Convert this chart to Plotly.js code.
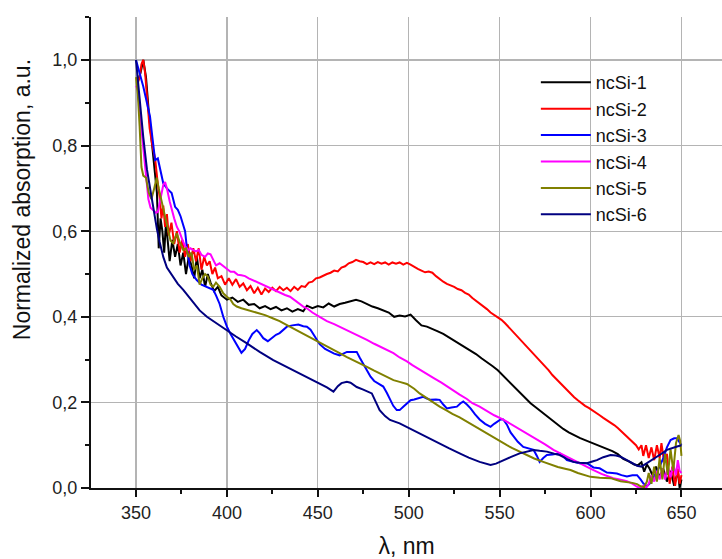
<!DOCTYPE html>
<html>
<head>
<meta charset="utf-8">
<script src="https://cdn.plot.ly/plotly-3.0.1.min.js"></script>
<style>html,body{margin:0;padding:0;background:#fff;}#chart{width:722px;height:559px;}</style>
</head>
<body>
<div id="chart"></div>
<script>
// ---- data ----
const seriesNames = ["ncSi-1", "ncSi-2", "ncSi-3", "ncSi-4", "ncSi-5", "ncSi-6"];
const seriesColors = ["#000000", "#ff0000", "#0000ff", "#ff00ff", "#808000", "#000080"];

const x1 = [351,352.5,354,355.5,357,358.5,360,361.5,362.5,363.5,364.5,365.5,366.5,367.5,368.5,370,371.5,373,374.5,376,377.5,379,380.5,382,383.5,385,386.5,388,389.5,391,393,395,397,400,403,406,409,412,415,418,421,424,427,430,433,436,439,442,444,447,450,453,456,459,462,465,468,471,474,477,480,483,486,489,492,495,498,501,504,507,510,513,516,519,522,525,528,531,534,537,540,543,546,549,552,555,558,561,564,567,570,573,576,579,582,585,588,591,594,597,600,603,606,609,612,615,618,621,624,626,628,629.5,631,632.5,634,636,638,640,642,644,646,648,649,650];
const y1 = [0.95,0.97,1.0,0.96,0.88,0.82,0.76,0.69,0.56,0.63,0.60,0.55,0.62,0.57,0.53,0.58,0.54,0.57,0.52,0.55,0.50,0.54,0.52,0.49,0.54,0.49,0.51,0.47,0.50,0.48,0.46,0.47,0.45,0.44,0.445,0.435,0.44,0.428,0.43,0.42,0.425,0.418,0.423,0.415,0.42,0.412,0.418,0.413,0.426,0.42,0.425,0.422,0.431,0.424,0.43,0.433,0.437,0.44,0.436,0.43,0.424,0.42,0.415,0.41,0.40,0.403,0.401,0.405,0.392,0.38,0.377,0.372,0.366,0.36,0.352,0.345,0.338,0.33,0.32,0.313,0.303,0.295,0.285,0.275,0.262,0.25,0.237,0.222,0.21,0.198,0.188,0.178,0.167,0.157,0.147,0.138,0.13,0.123,0.117,0.112,0.107,0.102,0.097,0.092,0.086,0.079,0.068,0.062,0.055,0.053,0.06,0.038,0.055,0.045,0.03,0.05,0.025,0.045,0.015,0.04,0.005,0.04,0.0,0.02];

const x2 = [350.5,352,353,354,355,356,357.5,359,360.5,362,363,364,365,366,367,368,369.5,371,372.5,374,375.5,377,378.5,380,381.5,383,384.5,386,387.5,389,390.5,392,393.5,395,397,399,401,403,405,407,409,411,413,415,417,419,421,423,425,427,429,431,433,435,437,439,441,443,445,447,449,451,453,455,457,459,461,463,465,467,469,471,473,475,477,479,481,483,485,487,489,491,493,495,497,499,501,503,505,507,509,511,513,515,517,519,521,523,525,527,529,531,533,535,537,539,541,543,545,547,549,551,553,555,557,559,561,563,565,567,569,571,573,575,577,579,581,583,585,587,589,591,593,595,597,599,601,603,605,607,609,611,613,615,617,619,621,623,625,626.5,628,629,630.5,632,633.5,635,636.5,638,639,640.5,642,643.5,645,646.5,648,649,650];
const y2 = [0.94,0.96,0.99,1.0,0.97,0.92,0.84,0.80,0.77,0.71,0.68,0.63,0.66,0.61,0.64,0.59,0.62,0.57,0.60,0.55,0.58,0.54,0.57,0.53,0.56,0.53,0.56,0.51,0.54,0.52,0.53,0.50,0.515,0.49,0.495,0.475,0.49,0.475,0.488,0.47,0.478,0.462,0.472,0.455,0.468,0.452,0.466,0.458,0.468,0.46,0.47,0.462,0.468,0.46,0.47,0.463,0.472,0.47,0.48,0.482,0.49,0.492,0.497,0.5,0.503,0.508,0.506,0.515,0.518,0.525,0.528,0.533,0.53,0.528,0.523,0.527,0.523,0.528,0.524,0.527,0.522,0.527,0.524,0.527,0.522,0.526,0.522,0.516,0.512,0.508,0.504,0.506,0.503,0.495,0.488,0.482,0.477,0.474,0.47,0.465,0.462,0.456,0.452,0.444,0.438,0.43,0.424,0.418,0.41,0.405,0.4,0.393,0.385,0.376,0.366,0.358,0.348,0.339,0.33,0.32,0.311,0.302,0.294,0.285,0.275,0.264,0.255,0.247,0.238,0.23,0.22,0.212,0.205,0.198,0.192,0.187,0.182,0.176,0.17,0.164,0.159,0.153,0.147,0.14,0.132,0.125,0.117,0.107,0.1,0.09,0.1,0.075,0.1,0.07,0.095,0.065,0.1,0.07,0.105,0.06,0.08,0.01,0.05,0.005,0.045,0.01,0.03];

const x3 = [350,352,354,356,357.7,359,360.5,362,363.5,365,367,369.6,371.5,373,374.5,376,377,378,379.5,381,383.4,386,389,392.5,394,396,398,400,402,404,406,408,410,412,414,416.4,418,420,422.5,425,427,429,431,433,436,439.3,442,444,446,448,451,454,456.8,459,462,464,466,469,471.4,473,475,477,479,481,483,486,488,489.7,491.5,493.4,495,497,499,501,503,506,508,510,512,515,517,519,521,523.5,526.5,528.5,530,532,534,536.5,539,542,545,547,548.5,550.5,552,554,556,558,560,563,566,568.7,570.5,572,574,576,579,583,585,587,590,594,598,601.6,605,607,609,612,614.5,617,620,623,625.6,627.5,629,631,632.5,634,636,638,640,642,644,646,647.6,649,650];
const y3 = [1.0,0.97,0.938,0.9,0.868,0.82,0.766,0.77,0.74,0.712,0.70,0.689,0.657,0.65,0.635,0.612,0.60,0.56,0.52,0.50,0.486,0.475,0.47,0.463,0.45,0.43,0.40,0.377,0.36,0.345,0.33,0.316,0.325,0.345,0.36,0.369,0.362,0.35,0.343,0.352,0.358,0.362,0.37,0.377,0.38,0.382,0.378,0.377,0.37,0.355,0.336,0.325,0.318,0.314,0.31,0.314,0.318,0.318,0.318,0.305,0.291,0.275,0.26,0.25,0.245,0.237,0.222,0.206,0.192,0.182,0.182,0.19,0.198,0.205,0.207,0.21,0.213,0.209,0.206,0.207,0.206,0.195,0.186,0.188,0.19,0.198,0.202,0.195,0.186,0.172,0.16,0.15,0.143,0.15,0.155,0.16,0.16,0.148,0.13,0.118,0.108,0.096,0.092,0.089,0.075,0.061,0.07,0.077,0.078,0.081,0.074,0.065,0.062,0.058,0.058,0.048,0.046,0.04,0.036,0.035,0.034,0.03,0.027,0.03,0.03,0.02,0.011,0.004,0.01,0.02,0.035,0.05,0.07,0.095,0.112,0.116,0.116,0.105,0.1];

const x4 = [350,351,352.5,354,355.5,356.8,358,359.5,361,362,363.5,365,366,367,368.5,369.6,371,372.5,374,375.5,377,378.8,380,381.5,383,384.5,386,388,389.5,391,392.5,394,396,398,400,402,404,406,408,410,412,414,416,418,420,422,424,426,428,430,432,434.7,437,440,442,444,447,451,455,459,462,466,470,474,477,481,485,488,491.6,495,499,502,506,510,514,518,521,525,528,532,535,539,543,547,552,556,560,565,570,575,579.6,585,590.6,595,601.6,606,612.5,616,620,623,625.5,627.5,629,630.5,632,633.5,635,636.5,638,639.5,641,642.5,644,645.5,647,648,649,650];
const y4 = [0.94,0.93,0.86,0.79,0.72,0.675,0.655,0.65,0.643,0.645,0.68,0.708,0.715,0.70,0.67,0.65,0.63,0.61,0.598,0.58,0.565,0.556,0.56,0.556,0.553,0.556,0.545,0.54,0.548,0.546,0.532,0.52,0.525,0.518,0.512,0.505,0.505,0.498,0.497,0.495,0.49,0.486,0.482,0.478,0.474,0.47,0.466,0.462,0.458,0.455,0.451,0.447,0.44,0.43,0.424,0.42,0.41,0.40,0.39,0.383,0.377,0.368,0.36,0.352,0.346,0.337,0.329,0.322,0.315,0.305,0.296,0.287,0.276,0.266,0.256,0.246,0.237,0.226,0.218,0.208,0.198,0.19,0.18,0.17,0.16,0.15,0.14,0.128,0.115,0.102,0.089,0.077,0.065,0.055,0.042,0.033,0.023,0.02,0.016,0.01,0.003,0.0,0.005,0.0,0.01,0.03,0.015,0.04,0.02,0.045,0.02,0.05,0.025,0.055,0.03,0.065,0.04,0.035];

const x5 = [350,351,352,353,354,355.5,357,358.5,360,361.4,362.5,364,366,367.5,369,370.5,372.4,374,376,377.5,379,380.5,382,383.5,385,386.5,388,389.5,391,392.5,394,396,398,400,402,403.5,405.4,408,411,414,418,421,425.5,429,432,434.7,438,441,444,447,451,455,458,462,466,470,474,477,481,485,488,491.6,495,499,503,506,510,514,517,521,524,528,532,535,539,543,546,550,554,557,561,565,569,574,578,582,586,589,593,597,600,605,611,616.5,620,623,625.6,627.5,629.4,631,632,633.5,635,636.5,638,639.5,641,642.5,644,645.5,647,648.4,649.3,650];
const y5 = [0.96,0.92,0.845,0.75,0.73,0.725,0.69,0.675,0.70,0.725,0.70,0.67,0.634,0.60,0.578,0.572,0.595,0.575,0.556,0.56,0.54,0.55,0.51,0.52,0.475,0.49,0.50,0.494,0.475,0.47,0.48,0.47,0.455,0.447,0.44,0.43,0.424,0.42,0.416,0.413,0.408,0.404,0.396,0.39,0.383,0.377,0.37,0.362,0.357,0.35,0.34,0.332,0.325,0.315,0.306,0.298,0.29,0.283,0.274,0.266,0.259,0.252,0.248,0.243,0.232,0.221,0.21,0.198,0.19,0.181,0.173,0.165,0.155,0.147,0.136,0.127,0.118,0.108,0.1,0.093,0.085,0.077,0.069,0.061,0.055,0.049,0.045,0.042,0.035,0.029,0.026,0.024,0.023,0.016,0.014,0.012,0.009,0.004,0.002,0.015,0.035,0.01,0.05,0.015,0.07,0.02,0.08,0.03,0.09,0.04,0.105,0.124,0.11,0.075];

const x6 = [350,352,354,356,358,360,361.5,363,365,367,370.5,373,376,379,381.5,385,389,394,400,405,411,418,425.5,433,440,446,451,455,458.6,461,463,466,468,471.4,475,479.7,482,484,487,489.7,495,500,506,511,517,522,528,533,539,545,548,552,556,561,565,568.7,572,576,580,583,587,590.6,594,598,601,603.5,607,611,614,616.5,620,623,625.6,628,631,634,636.5,639,642,645,647.6,650];
const y6 = [1.0,0.9,0.82,0.745,0.69,0.64,0.605,0.575,0.54,0.515,0.494,0.477,0.463,0.447,0.432,0.415,0.40,0.385,0.369,0.354,0.338,0.318,0.299,0.283,0.268,0.256,0.245,0.235,0.225,0.238,0.245,0.248,0.246,0.236,0.23,0.221,0.2,0.182,0.168,0.159,0.151,0.14,0.128,0.117,0.104,0.093,0.081,0.071,0.061,0.054,0.057,0.065,0.072,0.081,0.086,0.089,0.087,0.085,0.08,0.077,0.068,0.061,0.059,0.058,0.062,0.065,0.072,0.077,0.076,0.073,0.065,0.058,0.052,0.05,0.058,0.065,0.073,0.08,0.089,0.094,0.097,0.10];

const xTickVals = [350, 400, 450, 500, 550, 600, 650];
const yTickVals = [0.0, 0.2, 0.4, 0.6, 0.8, 1.0];
const xTitle = "λ, nm";
const yTitle = "Normalized absorption, a.u.";

// ---- build traces ----
const xs = [x1, x2, x3, x4, x5, x6];
const ys = [y1, y2, y3, y4, y5, y6];
const traces = seriesNames.map((name, i) => ({
  type: "scatter",
  mode: "lines",
  name: name,
  x: xs[i],
  y: ys[i],
  line: { color: seriesColors[i], width: 2 }
}));

const FONT = "Liberation Sans, Arial, sans-serif";
const layout = {
  width: 722,
  height: 559,
  margin: { l: 91, r: 0, t: 17, b: 71, pad: 0 },
  paper_bgcolor: "#ffffff",
  plot_bgcolor: "#ffffff",
  separators: ",.",
  font: { family: FONT, size: 18, color: "#222222" },
  showlegend: true,
  legend: {
    x: 0.705, y: 0.9, xanchor: "left", yanchor: "top",
    bgcolor: "rgba(0,0,0,0)", borderwidth: 0,
    font: { family: FONT, size: 18, color: "#111111" },
    itemwidth: 50, tracegroupgap: 0
  },
  xaxis: {
    range: [325.25, 672.3],
    tickmode: "array", tickvals: xTickVals,
    ticks: "outside", ticklen: 7, tickwidth: 2, tickcolor: "#111",
    showline: true, linecolor: "#111", linewidth: 2,
    showgrid: true, gridcolor: "#b4b4b4", gridwidth: 1.3,
    zeroline: false,
    minor: { dtick: 25, tick0: 325, ticks: "outside", ticklen: 4, tickwidth: 2, tickcolor: "#111", showgrid: false },
    tickfont: { family: FONT, size: 18, color: "#222" },
    title: { text: xTitle, font: { family: FONT, size: 23, color: "#111" }, standoff: 22 }
  },
  yaxis: {
    range: [0, 1.1005],
    tickmode: "array", tickvals: yTickVals, tickformat: ".1f",
    ticks: "outside", ticklen: 8, tickwidth: 2, tickcolor: "#111",
    showline: true, linecolor: "#111", linewidth: 2,
    showgrid: true, gridcolor: "#b4b4b4", gridwidth: 1.3,
    zeroline: false,
    minor: { dtick: 0.1, tick0: 0, ticks: "outside", ticklen: 4, tickwidth: 2, tickcolor: "#111", showgrid: false },
    tickfont: { family: FONT, size: 18, color: "#222" }
  },
  annotations: [{
    text: yTitle, textangle: -90,
    xref: "paper", yref: "paper", x: -0.109, y: 0.6115,
    xanchor: "center", yanchor: "middle", showarrow: false,
    font: { family: FONT, size: 23, color: "#111" }
  }]
};

Plotly.newPlot("chart", traces, layout, { staticPlot: true, displayModeBar: false });
</script>
</body>
</html>
